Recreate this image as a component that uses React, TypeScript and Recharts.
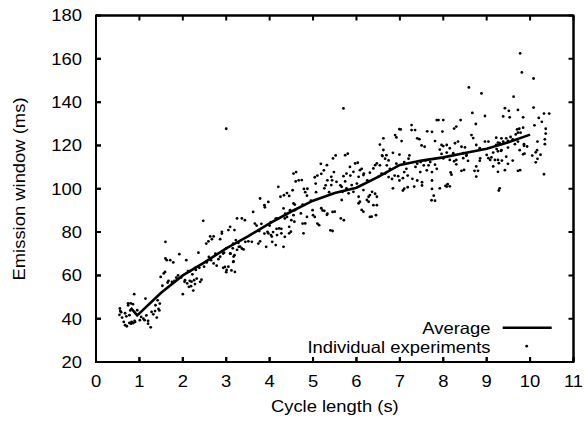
import React from 'react';
import { ComposedChart, Line, XAxis, YAxis, ReferenceArea, CartesianGrid } from 'recharts';

const xTicks = [0, 1, 2, 3, 4, 5, 6, 7, 8, 9, 10, 11];
const yTicks = [20, 40, 60, 80, 100, 120, 140, 160, 180];

const avgX = [0.8, 0.95, 1.5, 2, 2.5, 3, 3.5, 4, 4.5, 5, 5.5, 6, 6.5, 7, 7.5, 8, 8.5, 9, 9.5, 10];
const avgY = [45, 41.5, 52, 60, 66, 72.5, 78, 84, 89.5, 94.5, 98, 100.5, 105.5, 111, 113, 114.5, 116.5, 118.5, 121.5, 125];

const experiments: [number, number][] = [
  [0.54,41.8],[0.55,44.7],[0.56,43.5],[0.58,43],[0.6,40.5],[0.64,38.5],[0.67,42.5],[0.67,37],[0.7,41.1],[0.71,36.5],[0.74,46.2],[0.74,47.1],[0.77,38],[0.77,41.6],[0.79,43.8],[0.8,47.1],[0.81,37.7],[0.82,38.5],[0.85,46.7],[0.86,38],[0.88,51.3],[0.89,39],[0.9,38.5],[0.95,43.9],[1.01,39.3],[1.04,40.8],[1.09,40],[1.12,39.3],[1.14,49.3],[1.16,41.5],[1.2,39],[1.2,37.7],[1.26,36],[1.28,43.1],[1.32,42],[1.36,43.5],[1.37,46.2],[1.4,40.5],[1.42,48.5],[1.44,44.5],[1.46,43.8],[1.47,47],
  [1.49,59.3],[1.53,55.2],[1.56,60.9],[1.59,61.6],[1.6,75.5],[1.6,67.8],[1.63,67],[1.65,56.7],[1.67,57.5],[1.71,67],[1.75,57],[1.78,66],[1.81,57.5],[1.85,59],[1.89,60],[1.92,69.8],[1.96,59],[2.0,51.3],[2.04,57],[2.08,67],[2.12,62],[2.16,57.5],[2.19,55],[2.22,60.5],[2.24,53],[2.28,56],[2.3,62.5],[2.32,58.5],[2.36,70.5],[2.38,63.5],[2.4,57],[2.43,58],[2.47,85.2],[2.49,64],
  [2.05,57.8],[2.1,56.3],[2.14,54.7],[2.2,57.1],[2.26,57.8],[2.16,61.9],[2.28,63.5],[2.36,64.2],
  [2.54,74.7],[2.59,75.7],[2.63,78],[2.67,76.7],[2.71,78],[2.65,67],[2.71,65.5],[2.78,64.5],[2.82,67.5],[2.86,76.7],[2.9,80.1],[2.93,63.5],[3.0,127.7],[3.01,62.5],[3.05,64],[3.09,82.4],[3.17,68.7],[3.2,61.6],[3.17,66.4],[3.25,71.8],[3.32,73.3],[3.36,86.3],[3.43,85.5],[3.51,75.7],[2.55,66],[2.6,68.5],[2.75,70],[2.95,70.5],[3.1,70],[3.15,72.5],[3.28,75],[3.4,72],
  [2.86,68.6],[2.93,70.1],[3.0,72.4],[3.05,80.9],[3.19,80.9],[3.25,86.3],[3.16,74.7],[3.22,76.3],[3.29,73.2],[3.36,72.4],[3.09,70.1],[3.19,69.3],[3.16,66.2],[3.12,62.3],[3.0,61.5],[2.97,63.9],[3.44,75.5],[2.9,79.3],
  [3.59,75.5],[3.62,89.3],[3.66,83.9],[3.7,83],[3.74,74.7],[3.76,80.5],[3.78,95.5],[3.78,75.7],[3.81,83.8],[3.88,92.4],[3.88,79.3],[3.89,91.4],[3.92,73.2],[3.95,80.1],[3.97,93.9],[3.97,79.4],[4.0,83],[4.03,78.6],[4.03,84.6],[4.05,77.9],[4.06,75.5],[4.08,80],[4.14,86.2],[4.14,74],[4.16,81.5],[4.17,78.6],[4.17,86.3],[4.2,100.9],[4.22,81.7],[4.25,96.3],[4.27,81.5],[4.27,79.4],[4.32,73.2],[4.32,90.9],[4.33,97],[4.35,86.3],[4.35,77.8],[4.36,88.5],[4.4,87],[4.4,98],[4.45,96.7],[4.45,82.4],[4.45,79.4],[4.47,90.1],[4.49,80.2],[4.5,85.5],
  [4.53,99.3],[4.55,107],[4.55,93.2],[4.55,87.8],[4.57,84.8],[4.58,92.7],[4.58,90.1],[4.6,103.4],[4.61,107.7],[4.67,103.9],[4.72,88.6],[4.74,104],[4.76,92.7],[4.76,83.9],[4.78,79.4],[4.79,99.9],[4.82,98.4],[4.82,84],[4.86,96.8],[4.86,87],[4.87,100],[4.95,94.5],[4.99,90.1],[5.0,87.8],[5.04,105.3],[5.04,87],[5.06,102.4],[5.07,98.4],[5.1,106.1],[5.1,83.9],[5.14,83.2],[5.18,111.5],[5.19,91],[5.19,106.9],[5.22,90],[5.25,108.5],[5.26,100.2],[5.26,89.8],[5.29,101.6],[5.32,110.9],[5.32,88],[5.33,88.5],[5.33,103.9],[5.37,98.4],[5.4,80.8],[5.42,105.5],[5.42,101.7],[5.44,103.9],[5.45,80.5],[5.45,89.3],[5.46,114],[5.48,107.7],
  [5.5,89.4],[5.52,115.4],[5.54,103.2],[5.63,101.6],[5.64,86.3],[5.66,100.9],[5.66,94.8],[5.68,98.6],[5.7,137.1],[5.7,105.8],[5.71,85.5],[5.74,115.5],[5.74,103.4],[5.77,107],[5.77,100.2],[5.8,116.2],[5.82,97.9],[5.85,110.1],[5.86,106.1],[5.89,101.7],[5.93,107.8],[5.93,98.6],[5.97,111.7],[6.01,102.4],[6.03,112],[6.05,105.5],[6.05,96.3],[6.05,93.3],[6.08,108.6],[6.08,94],[6.12,109.2],[6.12,90.2],[6.16,106.3],[6.16,99.4],[6.16,89.4],[6.17,107],[6.24,94.8],[6.25,103.9],[6.28,96.3],[6.28,94],[6.31,107.4],[6.31,97.1],[6.31,87],[6.35,87.1],[6.36,98.6],[6.39,109.4],[6.39,92.4],[6.43,110.9],[6.43,97.7],[6.45,87.8],[6.47,111.7],[6.47,96.3],[6.47,92.4],
  [6.5,105.5],[6.54,120.4],[6.54,110.8],[6.58,107],[6.59,115.4],[6.6,115.1],[6.62,123.3],[6.62,117.9],[6.66,107],[6.66,113.9],[6.69,115.5],[6.7,110.8],[6.7,107.7],[6.74,113.1],[6.74,105.4],[6.77,109.2],[6.82,104.5],[6.84,116.6],[6.84,100.2],[6.88,106.1],[6.89,124.8],[6.92,123.7],[6.92,111.6],[6.96,105.8],[6.99,127.5],[6.99,115.8],[6.99,103.8],[7.02,127.4],[7.04,122],[7.07,104.9],[7.07,99.2],[7.1,112.3],[7.1,107.7],[7.1,100],[7.15,109.2],[7.18,106.1],[7.18,100.7],[7.2,113.9],[7.22,115.4],[7.27,127.1],[7.27,129.4],[7.29,104.6],[7.33,101],[7.35,127.1],[7.36,110.1],[7.4,111.6],[7.4,103.8],[7.4,123.3],[7.45,122.9],[7.47,107.7],[7.48,112.3],
  [7.5,120],[7.51,103],[7.51,101.5],[7.55,110.8],[7.57,119.4],[7.59,113.1],[7.62,108.5],[7.63,126.5],[7.66,110.8],[7.7,112.3],[7.73,94.7],[7.74,126.3],[7.74,107.7],[7.74,103.8],[7.74,99.9],[7.78,96.8],[7.81,122],[7.81,111.1],[7.81,94.5],[7.85,131.7],[7.85,109.2],[7.89,131.7],[7.92,118.1],[7.92,100.2],[7.96,120.2],[7.96,116.1],[7.98,126.4],[8.0,131.7],[8.0,114],[8.0,119.7],[8.05,101.3],[8.08,120.2],[8.08,116.7],[8.08,101],[8.1,102.1],[8.15,118.7],[8.15,113.3],[8.15,101.1],[8.17,107.5],[8.19,106.5],[8.23,116.4],[8.25,127.8],[8.25,112.7],[8.27,121],[8.3,128.7],[8.3,113.3],[8.3,111.3],[8.34,121.8],[8.4,131.7],[8.42,119.4],[8.42,108.3],[8.46,116.4],[8.46,114.1],[8.48,108.7],
  [8.5,119.1],[8.53,115.2],[8.54,115.6],[8.57,112.9],[8.59,146.8],[8.65,124.8],[8.67,135],[8.69,123.4],[8.72,108.3],[8.75,129.9],[8.76,120.2],[8.76,110.3],[8.76,105.6],[8.8,108.3],[8.84,118.7],[8.84,112.9],[8.85,114],[8.88,144],[8.96,133.6],[8.96,121.8],[9.0,115.6],[9.04,121.8],[9.04,114.1],[9.08,113.3],[9.11,114.5],[9.15,116.7],[9.15,110.3],[9.19,113.3],[9.22,123.6],[9.22,120.3],[9.23,118.3],[9.26,121.3],[9.26,117.3],[9.26,113.3],[9.26,107.8],[9.28,111.8],[9.28,99.2],[9.3,121],[9.3,100.2],[9.33,117.5],[9.34,123.3],[9.34,117.8],[9.35,113],[9.38,133.4],[9.38,121.8],[9.42,137.2],[9.42,108.6],[9.45,123.3],[9.45,114.8],[9.49,122.1],[9.49,119],[9.49,111.5],
  [9.51,136],[9.53,133],[9.55,123.9],[9.6,122.8],[9.6,113],[9.62,142.5],[9.65,120.6],[9.67,125.1],[9.7,127.4],[9.72,136.4],[9.72,125.9],[9.72,121.8],[9.72,108.3],[9.75,127.7],[9.76,117.8],[9.77,162.5],[9.77,108.6],[9.78,125.9],[9.81,153.7],[9.84,133],[9.84,128.2],[9.84,115.9],[9.86,120.6],[9.86,119.8],[9.87,116.2],[9.93,119.5],[10.05,115.3],[10.08,150.9],[10.08,137.5],[10.1,129.3],[10.13,116.8],[10.13,112.2],[10.16,117.8],[10.17,113.8],[10.17,121.8],[10.2,132.7],[10.24,115.7],[10.27,130.9],[10.32,134.7],[10.32,106.7],[10.34,122.8],[10.34,120.6],[10.36,127.7],[10.36,125.5],[10.44,134.7]
];

const avgData = avgX.map((x, i) => ({ x, y: avgY[i] }));
const expData = experiments.map(([x, y]) => ({ x, y }));

const FONT = 'Liberation Sans, Arial, Helvetica, sans-serif';
const FS = 16.3;
const SX = 1.13;
const PLOT_TOP = 15.5;
const PLOT_BOTTOM = 362;
const PLOT_LEFT = 96;
const PLOT_RIGHT = 573.5;
const TICK_LEN = 5;

const XTick = (props: any) => {
  const { x, y, payload } = props;
  return (
    <g>
      <path d={`M${x},${PLOT_BOTTOM}v${-TICK_LEN}M${x},${PLOT_TOP}v${TICK_LEN}`} stroke="#000" strokeWidth={2} />
      <text transform={`translate(${x},${y}) scale(${SX},1)`} textAnchor="middle" fontSize={FS} fontFamily={FONT} fill="#000" dy={11.7}>
        {payload.value}
      </text>
    </g>
  );
};

const YTick = (props: any) => {
  const { x, y, payload } = props;
  return (
    <g>
      <path d={`M${PLOT_LEFT},${y}h${TICK_LEN}M${PLOT_RIGHT},${y}h${-TICK_LEN}`} stroke="#000" strokeWidth={2} />
      <text transform={`translate(${x},${y}) scale(${SX},1)`} textAnchor="end" fontSize={FS} fontFamily={FONT} fill="#000" dy={5.8}>
        {payload.value}
      </text>
    </g>
  );
};

const PointDot = (props: any) => {
  const { cx, cy } = props;
  if (cx == null || cy == null) return null;
  return <circle cx={cx} cy={cy} r={1.4} fill="#000" stroke="none" />;
};

const XTitleAndLegend = () => (
  <g fontFamily={FONT} fontSize={FS} fill="#000">
    <text transform={`translate(334.8,412) scale(${SX},1)`} textAnchor="middle">Cycle length (s)</text>
    <text transform={`translate(490.5,333.5) scale(${SX},1)`} textAnchor="end">Average</text>
    <path d="M502.7,327.8H551.7" stroke="#000" strokeWidth={2.6} />
    <text transform={`translate(490.5,352.5) scale(${SX},1)`} textAnchor="end">Individual experiments</text>
    <circle cx={526.7} cy={346.2} r={1.4} fill="#000" />
  </g>
);

const YTitle = () => (
  <text transform={`translate(24.5,189) rotate(-90) scale(${SX},1)`} textAnchor="middle" fontFamily={FONT} fontSize={FS} fill="#000">
    Emission window (ms)
  </text>
);

export default function App() {
  return (
    <div style={{ position: 'absolute', left: 0, top: 0, width: 584, height: 421 }}>
      <ComposedChart width={584} height={421} margin={{ top: PLOT_TOP, right: 584 - PLOT_RIGHT, bottom: 0, left: 0 }}>
        <CartesianGrid xAxisId="b" yAxisId="l" stroke="#000" strokeWidth={2}
          horizontalPoints={[PLOT_TOP, PLOT_BOTTOM]} verticalPoints={[PLOT_LEFT, PLOT_RIGHT]} />
        <XAxis xAxisId="b" dataKey="x" type="number" domain={[0, 11]} ticks={xTicks} interval={0} height={59}
          stroke="#000" strokeWidth={2} tickSize={-5} tickMargin={18} tick={<XTick />}
          label={{ content: () => <XTitleAndLegend /> }} />
        <YAxis yAxisId="l" type="number" domain={[20, 180]} ticks={yTicks} interval={0} width={96}
          stroke="#000" strokeWidth={2} tickSize={-5} tickMargin={19} tick={<YTick />}
          label={{ content: () => <YTitle /> }} />
        <ReferenceArea x1={0} x2={11} y1={20} y2={180} xAxisId="b" yAxisId="l" fill="#fff" fillOpacity={0.01} stroke="#000" strokeWidth={2} ifOverflow="visible" />
        <Line name="Individual experiments" data={expData} dataKey="y" xAxisId="b" yAxisId="l" stroke="none" strokeWidth={0}
          dot={<PointDot />} activeDot={false} isAnimationActive={false} />
        <Line name="Average" data={avgData} dataKey="y" xAxisId="b" yAxisId="l" type="linear" stroke="#000" strokeWidth={2.6} dot={false} activeDot={false} isAnimationActive={false} />
      </ComposedChart>
    </div>
  );
}
